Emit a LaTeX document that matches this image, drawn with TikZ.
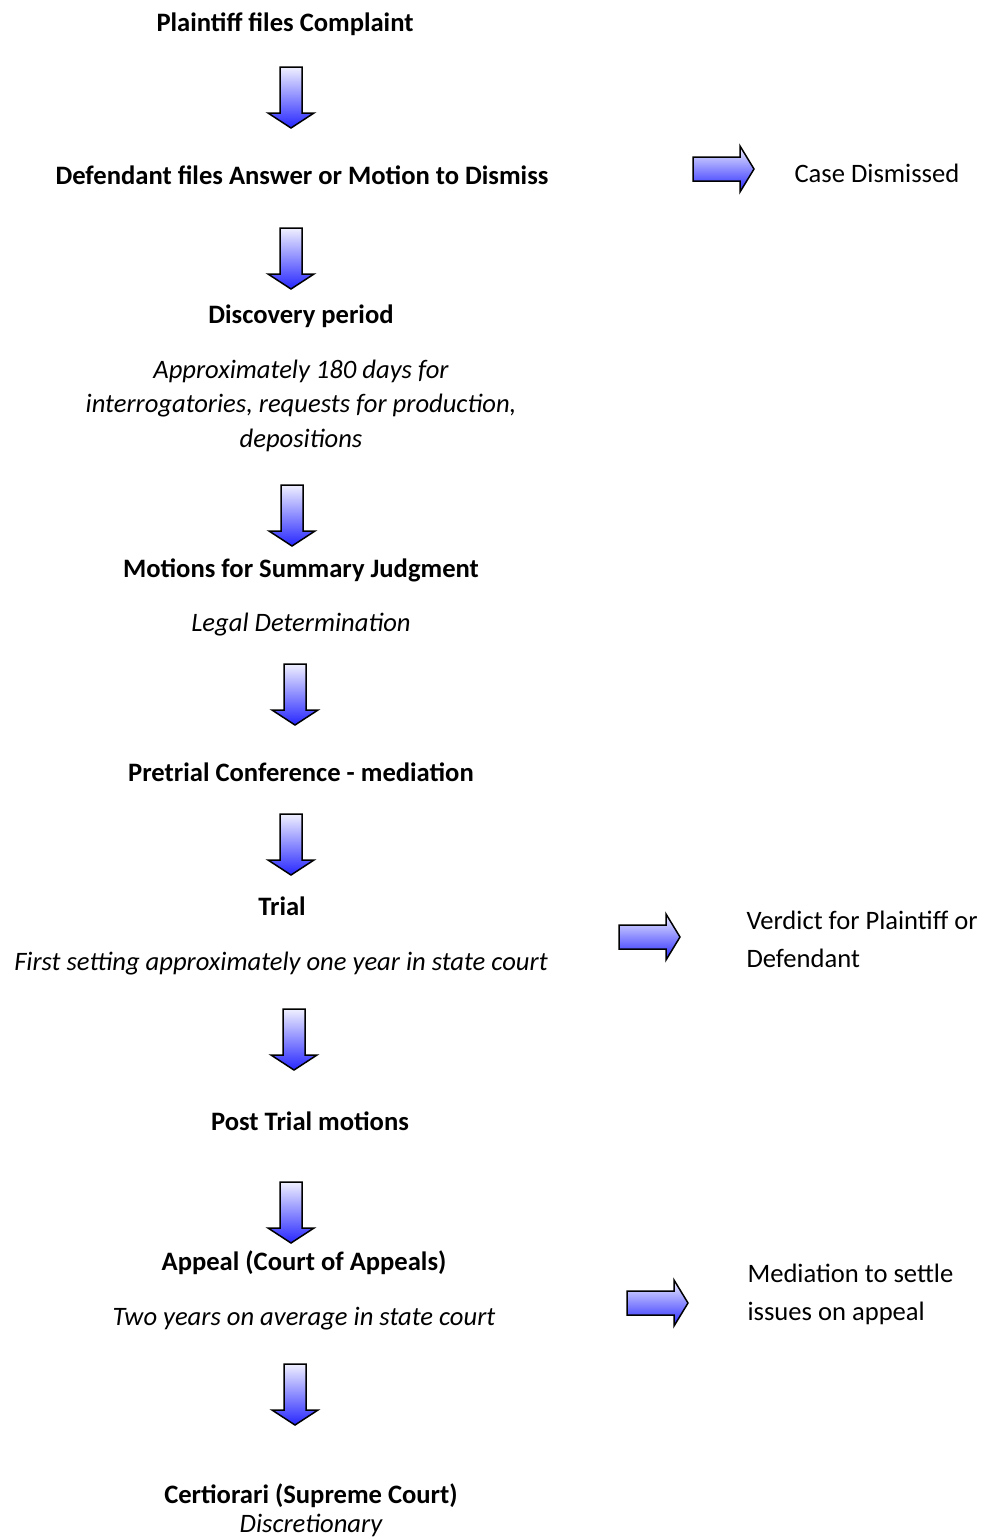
\documentclass[tikz,border=0pt]{standalone}
\usepackage{fontspec}
\setmainfont{Carlito}
\usepackage{tikz}
\usetikzlibrary{positioning,calc}

\tikzset{
  steptext/.style={font=\fontsize{26.6}{32}\selectfont\bfseries, anchor=base},
  notetext/.style={font=\fontsize{26.6}{34.5}\selectfont\itshape, anchor=base, align=center},
  sidetext/.style={font=\fontsize{26.6}{37.5}\selectfont, anchor=base west, align=left},
  blockarrow/.style={draw=black, line width=1.5pt, line join=miter,
    top color=blue!6, bottom color=blue!85},
  pics/downarrow/.style={code={
    \draw[blockarrow] (-11,0) -- (11,0) -- (11,46) -- (23,46) -- (0,61)
      -- (-23,46) -- (-11,46) -- cycle;}},
  pics/rightarrow/.style={code={
    \draw[blockarrow] (0,-12) -- (47,-12) -- (47,-23) -- (61,0) -- (47,23)
      -- (47,12) -- (0,12) -- cycle;}}
}

\begin{document}
\begin{tikzpicture}[x=1pt, y=-1pt]
  \useasboundingbox[fill=white] (0,0) rectangle (981,1539);

  % Steps (base of the last line)
  \node[steptext] (complaint) at (285,31) {Plaintiff files Complaint};
  \node[steptext] (answer) at (302,184) {Defendant files Answer or Motion to Dismiss};
  \node[steptext] (discovery) at (301,323) {Discovery period};
  \node[notetext] (discnote) at (301,447) {Approximately 180 days for\\
    interrogatories, requests for production,\\ depositions};
  \node[steptext] (summary) at (301,577) {Motions for Summary Judgment};
  \node[notetext] (summnote) at (301,631) {Legal Determination};
  \node[steptext] (pretrial) at (301,781) {Pretrial Conference - mediation};
  \node[steptext] (trial) at (282,915) {Trial};
  \node[notetext] (trialnote) at (281,970) {First setting approximately one year in state court};
  \node[steptext] (posttrial) at (310,1130) {Post Trial motions};
  \node[steptext] (appeal) at (304,1270) {Appeal (Court of Appeals)};
  \node[notetext] (appealnote) at (304,1325) {Two years on average in state court};
  \node[steptext] (certiorari) at (311,1503) {Certiorari (Supreme Court)};
  \node[notetext] (certnote) at (311,1532) {Discretionary};

  % Outcomes
  \node[sidetext] (dismissed) at (791,182) {Case Dismissed};
  \node[sidetext] (verdict) at (743,967) {Verdict for Plaintiff or\\ Defendant};
  \node[sidetext] (mediation) at (744,1320) {Mediation to settle\\ issues on appeal};

  % Down arrows
  \foreach \cx/\cy in {291/67, 291/228, 292/485, 295/664, 291/814,
                       294/1009, 291/1182, 295/1364} {
    \pic at (\cx,\cy) {downarrow};
  }

  % Side arrows
  \foreach \cx/\cy in {693/169, 619/937, 627/1303} {
    \pic at (\cx,\cy) {rightarrow};
  }
\end{tikzpicture}
\end{document}
